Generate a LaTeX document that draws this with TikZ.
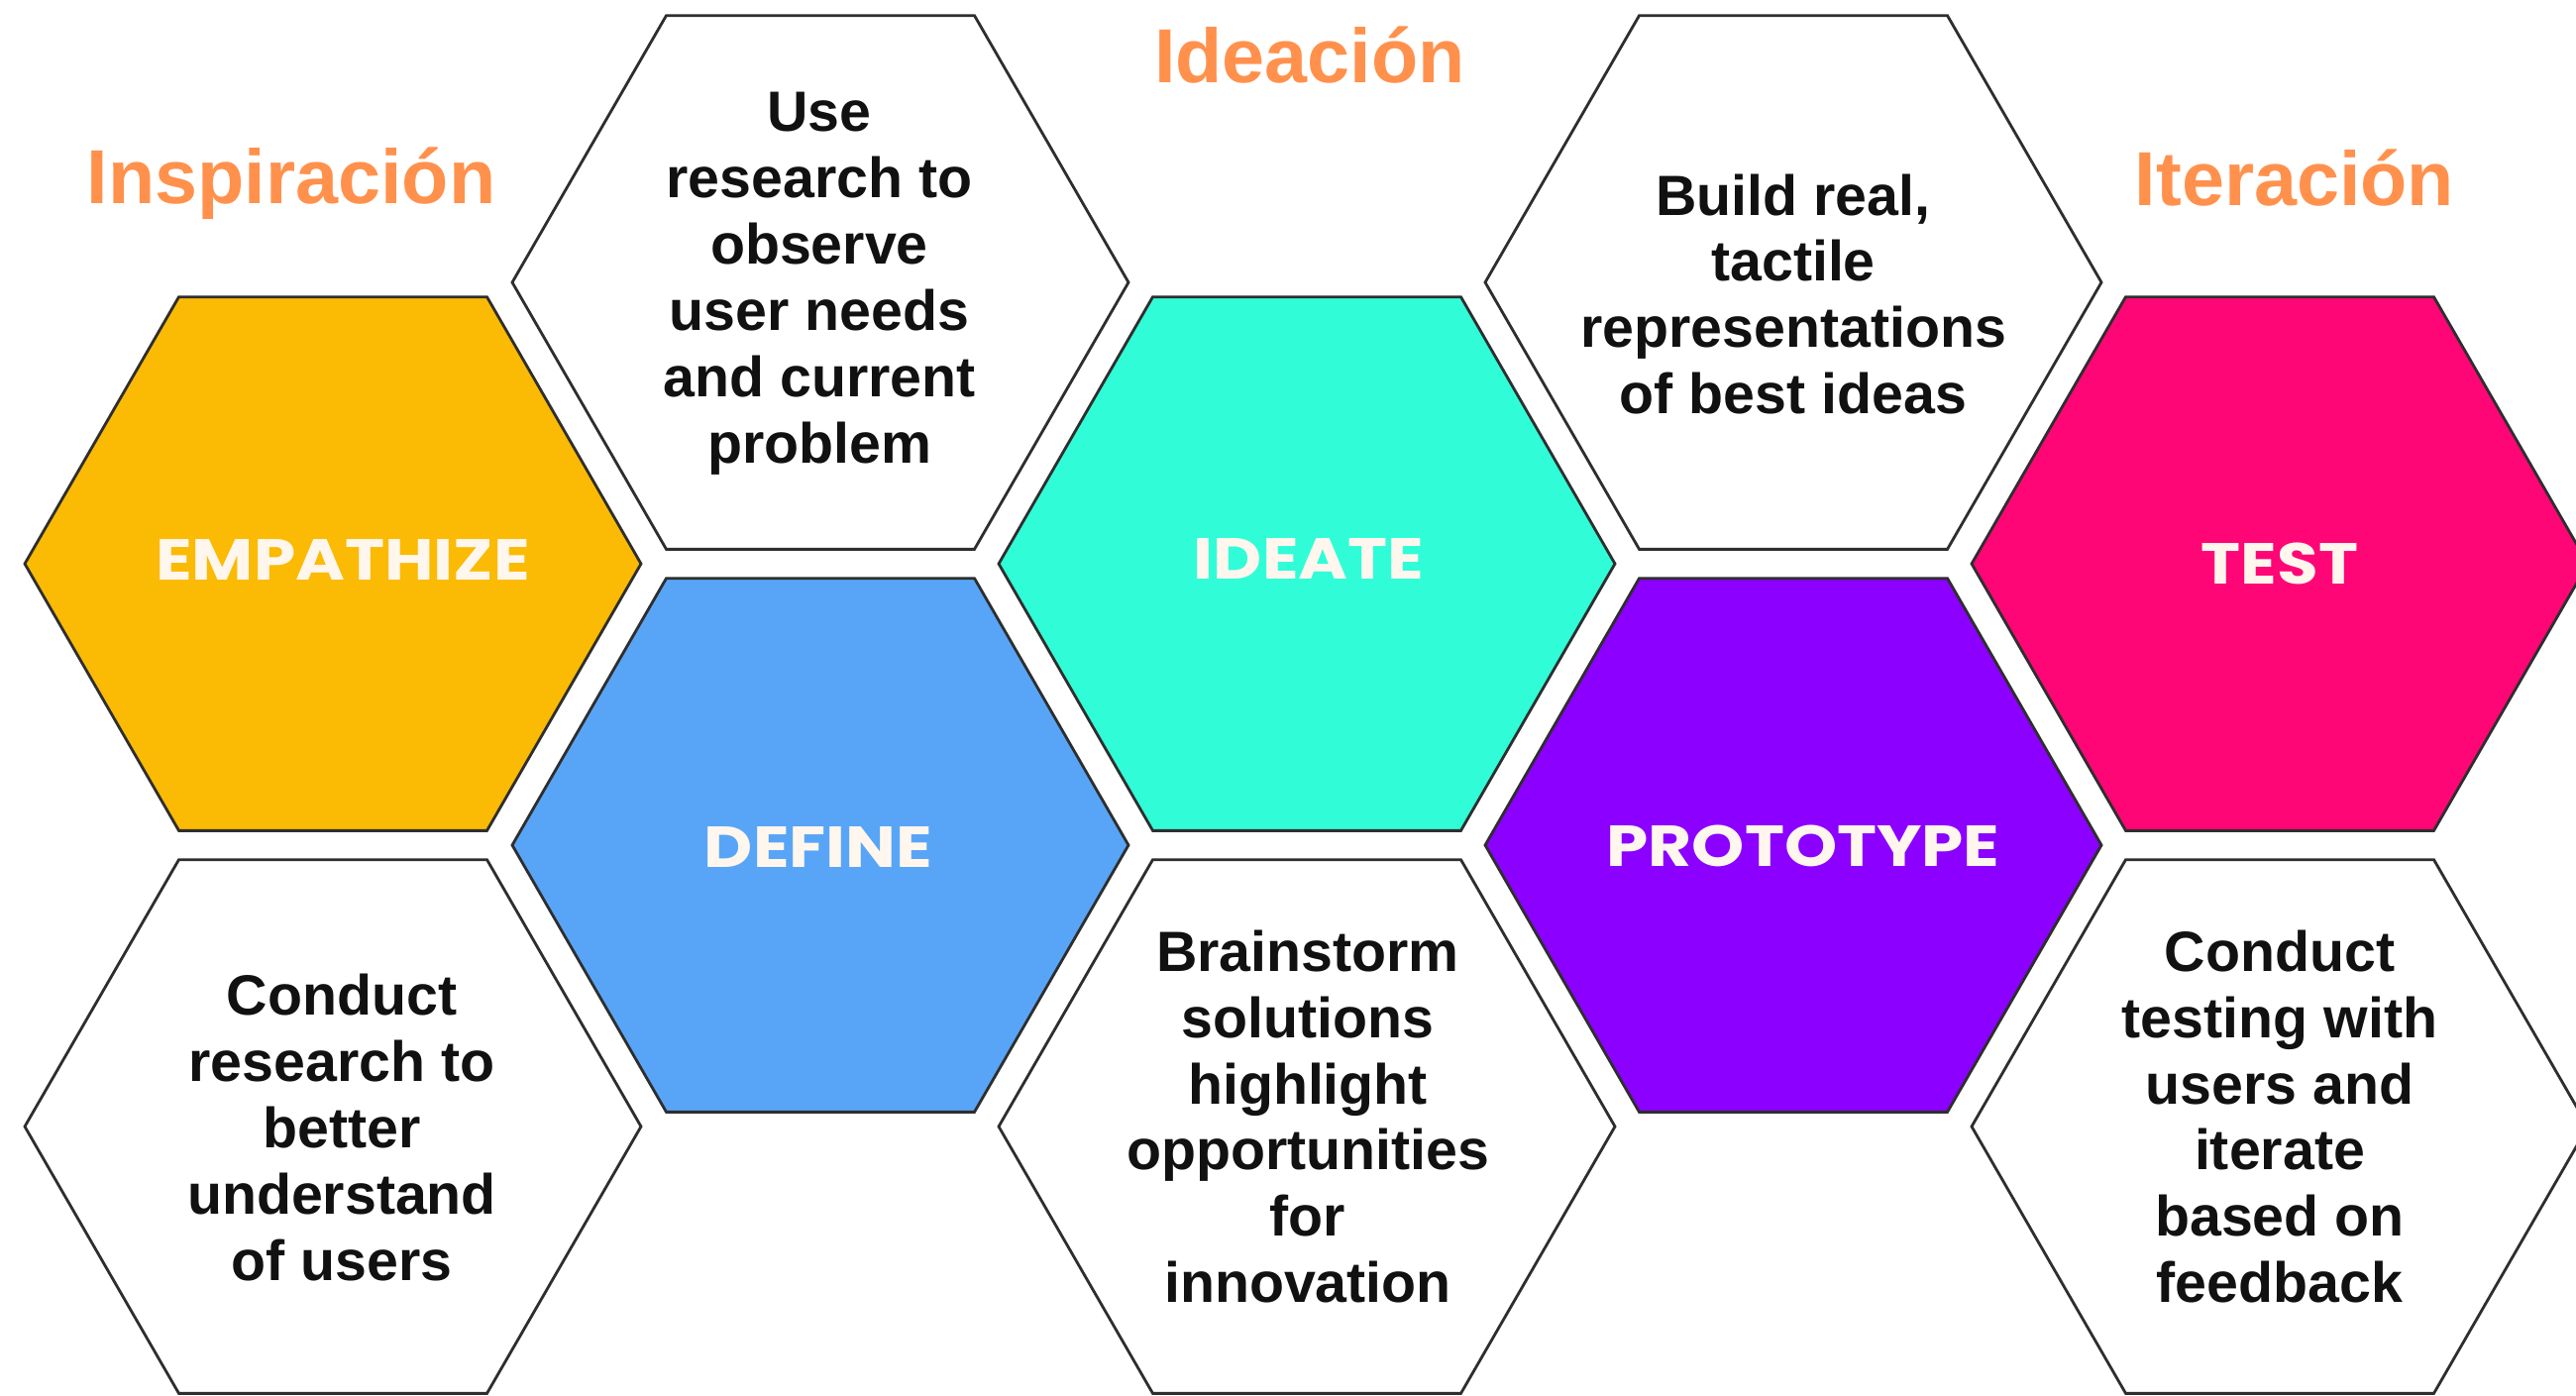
\documentclass[tikz,border=0pt]{standalone}
\usepackage{fontspec}
\usepackage{graphicx}
\setmainfont{Liberation Sans}
\newfontfamily\labfont{Poppins}
\usetikzlibrary{shapes.geometric}
\definecolor{ttl}{HTML}{FF914D}
\definecolor{cyel}{HTML}{FBBA04}
\definecolor{cblue}{HTML}{58A5F7}
\definecolor{cteal}{HTML}{30FDD8}
\definecolor{cpurp}{HTML}{8B00FF}
\definecolor{cpink}{HTML}{FF0677}
\definecolor{hexline}{HTML}{2E2E2E}
\definecolor{labcol}{HTML}{FFF7EE}
\definecolor{txt}{HTML}{111111}
\newcommand{\widelab}[1]{\scalebox{1.16}[1]{#1}}
\begin{document}
\begin{tikzpicture}[x=1cm,y=1cm,
  hex/.style={regular polygon, regular polygon sides=6, minimum size=6.22cm,
    inner sep=0pt, outer sep=0pt, draw=hexline, line width=0.8pt},
  whitehex/.style={hex, fill=white},
  body/.style={align=center, text=txt, inner sep=0pt,
    font=\bfseries\fontsize{16.3}{19.06}\selectfont},
  lab/.style={text=labcol, inner sep=0pt,
    font=\labfont\bfseries\fontsize{16.6}{20}\selectfont},
  ttlstyle/.style={text=ttl, inner sep=0pt, anchor=base,
    font=\bfseries\fontsize{22}{26}\selectfont}]
\useasboundingbox (0,0) rectangle (26,-14.08);
\fill[white] (0,0) rectangle (26,-14.08);
\begin{scope}
\clip (0,0) rectangle (26,-14.08);
\node[hex, fill=cyel]  (emp)  at (3.36,-5.69) {};
\node[whitehex]        (w1)   at (8.28,-2.85) {};
\node[hex, fill=cblue] (def)  at (8.28,-8.53) {};
\node[hex, fill=cteal] (ide)  at (13.19,-5.69) {};
\node[whitehex]        (w2)   at (18.10,-2.85) {};
\node[hex, fill=cpurp] (pro)  at (18.10,-8.53) {};
\node[hex, fill=cpink] (tst)  at (23.01,-5.69) {};
\node[whitehex]        (b1)   at (3.36,-11.37) {};
\node[whitehex]        (b2)   at (13.19,-11.37) {};
\node[whitehex]        (b3)   at (23.01,-11.37) {};
\end{scope}
\node[lab] (lemp) at (3.46,-5.65) {\widelab{EMPATHIZE}};
\node[lab] (ldef) at (8.26,-8.55) {\widelab{DEFINE}};
\node[lab] (lide) at (13.21,-5.64) {\widelab{IDEATE}};
\node[lab] (lpro) at (18.20,-8.54) {\widelab{PROTOTYPE}};
\node[lab] (ltst) at (23.01,-5.69) {\widelab{TEST}};
\node[body] (tw1) at (8.27,-2.86) {Use\\research to\\observe\\user needs\\and current\\problem};
\node[body] (tw2) at (18.10,-2.97) {Build real,\\tactile\\representations\\of best ideas};
\node[body] (tb1) at (3.45,-11.38) {Conduct\\research to\\better\\understand\\of users};
\node[body] (tb2) at (13.20,-11.27) {Brainstorm\\solutions\\highlight\\opportunities\\for\\innovation};
\node[body] (tb3) at (23.01,-11.27) {Conduct\\testing with\\users and\\iterate\\based on\\feedback};
\node[ttlstyle] (tinsp) at (2.94,-2.05) {Inspiración};
\node[ttlstyle] (tidea) at (13.22,-0.83) {Ideación};
\node[ttlstyle] (titer) at (23.16,-2.07) {Iteración};
\end{tikzpicture}
\end{document}
